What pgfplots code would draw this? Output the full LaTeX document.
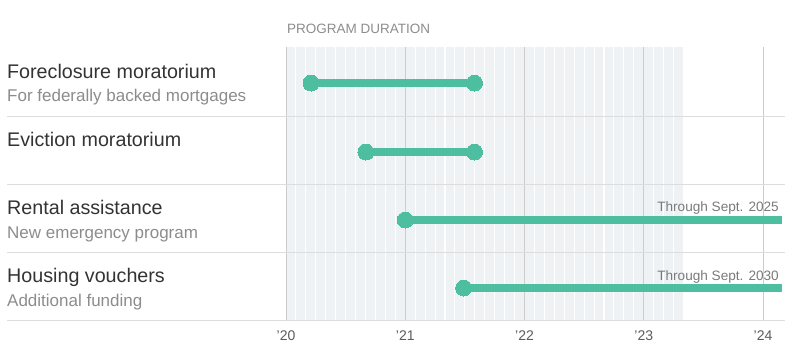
\documentclass[border=0pt]{standalone}
\usepackage{pgfplots}
\pgfplotsset{compat=1.18}
\usepackage{fontspec}
\setmainfont{Liberation Sans}
\definecolor{bar}{HTML}{4DBEA0}
\definecolor{bgshade}{HTML}{EEF2F4}
\definecolor{yearline}{HTML}{CCCCCC}
\definecolor{sep}{HTML}{DDDDDD}
\definecolor{ttl}{HTML}{333333}
\definecolor{sub}{HTML}{8C8C8C}
\definecolor{note}{HTML}{7A7A7A}
\newcommand{\ttlfont}{\fontsize{19.7}{22}\selectfont\color{ttl}}
\newcommand{\subfont}{\fontsize{17}{19}\selectfont\color{sub}}
\newcommand{\notefont}{\fontsize{13.6}{16}\selectfont\color{note}}
\begin{document}
\begin{tikzpicture}
\begin{axis}[
  width=800pt, height=353pt, scale only axis,
  xmin=2017.6017, xmax=2024.3103,
  ymin=0, ymax=353, y dir=reverse,
  axis lines=none, ticks=none,
  clip=false,
]
% frame for the bounding box
\path (rel axis cs:0,0) rectangle (rel axis cs:1,1);
% shaded program-duration area
\fill[bgshade] (axis cs:2020,47) rectangle (axis cs:2023.329,320);
\pgfplotsinvokeforeach{1,...,39}{
  \draw[white, line width=1.1pt] (axis cs:{2020+#1/12},47) -- (axis cs:{2020+#1/12},320);
}
\pgfplotsinvokeforeach{2020,2021,2022,2023,2024}{
  \draw[yearline, line width=1pt] (axis cs:#1,47) -- (axis cs:#1,320);
}
% row separators
\pgfplotsinvokeforeach{116,184,252,320.5}{
  \draw[sep, line width=1pt] (axis cs:2017.6604,#1) -- (axis cs:2024.1854,#1);
}
% bars
\addplot[bar, line width=7.5pt, mark=*, mark size=8pt, mark options={fill=bar, draw=bar, line width=0pt}]
  coordinates {(2020.21,83) (2021.58,83)};
\addplot[bar, line width=7.5pt, mark=*, mark size=8pt, mark options={fill=bar, draw=bar, line width=0pt}]
  coordinates {(2020.67,152) (2021.58,152)};
\addplot[bar, line width=7.5pt, mark=*, mark size=8pt, mark indices={1}, mark options={fill=bar, draw=bar, line width=0pt}]
  coordinates {(2021.00,220) (2024.16,220)};
\addplot[bar, line width=7.5pt, mark=*, mark size=8pt, mark indices={1}, mark options={fill=bar, draw=bar, line width=0pt}]
  coordinates {(2021.49,288) (2024.16,288)};
% header
\node[anchor=base west, inner sep=0pt, font=\fontsize{13.5}{16}\selectfont, text=sub] at (axis cs:2020.0084,34) {PROGRAM DURATION};
% row labels
\node[anchor=base west, inner sep=0pt, font=\ttlfont] at (axis cs:2017.6604,78) {Foreclosure moratorium};
\node[anchor=base west, inner sep=0pt, font=\subfont] at (axis cs:2017.6604,101.5) {For federally backed mortgages};
\node[anchor=base west, inner sep=0pt, font=\ttlfont] at (axis cs:2017.6604,146) {Eviction moratorium};
\node[anchor=base west, inner sep=0pt, font=\ttlfont] at (axis cs:2017.6604,214) {Rental assistance};
\node[anchor=base west, inner sep=0pt, font=\subfont] at (axis cs:2017.6604,238) {New emergency program};
\node[anchor=base west, inner sep=0pt, font=\ttlfont] at (axis cs:2017.6604,282) {Housing vouchers};
\node[anchor=base west, inner sep=0pt, font=\subfont] at (axis cs:2017.6604,306.5) {Additional funding};
% end notes
\node[anchor=base east, inner sep=0pt, font=\notefont] at (axis cs:2024.134,211.5) {Through Sept. 2025};
\node[anchor=base east, inner sep=0pt, font=\notefont] at (axis cs:2024.134,280) {Through Sept. 2030};
% year labels
\pgfplotsinvokeforeach{20,21,22,23,24}{
  \node[anchor=base, inner sep=0pt, font=\fontsize{14}{16}\selectfont, text=ttl!80] at (axis cs:{2000+#1},340) {'#1};
}
\end{axis}
\end{tikzpicture}
\end{document}
